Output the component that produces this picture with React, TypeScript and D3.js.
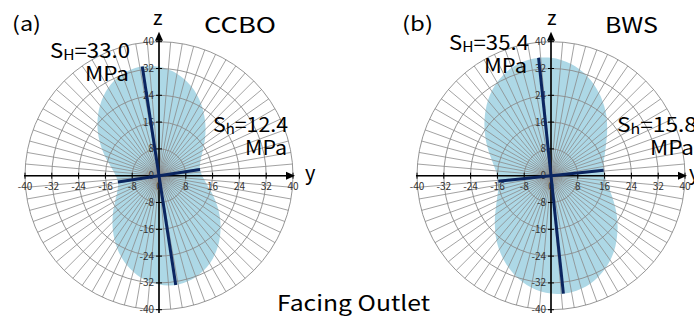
import React from 'react';
import * as d3 from 'd3';

// ---- data ----
const ANGLES_DEG = [0, 10, 20, 30, 40, 50, 60, 70, 80, 90, 100, 110, 120, 130, 140, 150, 160, 170,
  180, 190, 200, 210, 220, 230, 240, 250, 260, 270, 280, 290, 300, 310, 320, 330, 340, 350];
const CCBO_STRESS = [12.9, 12.4, 13.2, 15.1, 18.0, 21.4, 25.0, 28.3, 30.9, 32.5, 33.0, 32.2, 30.3, 27.4, 24.0, 20.5, 17.2, 14.5,
  12.9, 12.4, 13.2, 15.1, 18.0, 21.4, 25.0, 28.3, 30.9, 32.5, 33.0, 32.2, 30.3, 27.4, 24.0, 20.5, 17.2, 14.5];
const BWS_STRESS = [16.0, 15.9, 17.0, 19.0, 21.9, 25.3, 28.6, 31.6, 33.9, 35.2, 35.3, 34.3, 32.2, 29.3, 25.9, 22.6, 19.6, 17.3,
  16.0, 15.9, 17.0, 19.0, 21.9, 25.3, 28.6, 31.6, 33.9, 35.2, 35.3, 34.3, 32.2, 29.3, 25.9, 22.6, 19.6, 17.3];
const PANEL_LABELS = ['(a)', '(b)'];
const PANEL_NAMES = ['CCBO', 'BWS'];
const SH_VALUES = [33.0, 35.4];
const SH_ANGLES = [98.7, 96.0];
const Sh_VALUES = [12.4, 15.8];
const Sh_ANGLES = [8.7, 6.0];
const TICKS = [-40, -32, -24, -16, -8, 0, 8, 16, 24, 32, 40];
const GRID_RADII = [8, 16, 24, 32, 40];
const SPOKE_STEP = 5;
const FOOTER = 'Facing Outlet';

const W = 694;
const H = 323;
const CENTERS = [159, 551];
const CY = 175.7;
const R = 134;

const lin = d3.scaleLinear().domain([-40, 40]).range([-R, R]);
const rad = d3.scaleLinear().domain([0, 40]).range([0, R]);
const toXY = (deg: number, v: number): [number, number] => {
  const a = (deg * Math.PI) / 180;
  return [rad(v) * Math.cos(a), -rad(v) * Math.sin(a)];
};

const FONT = "'Noto Sans CJK JP', 'Liberation Sans', sans-serif";
const DARK = '#0b2560';

function Panel({ i }: { i: number }) {
  const stress = i === 0 ? CCBO_STRESS : BWS_STRESS;
  const pts = ANGLES_DEG.map((a, k) => toXY(a, stress[k]));
  const shape = d3.line().curve(d3.curveCatmullRomClosed.alpha(0.5))(pts) || '';
  const spokes = d3.range(0, 360, SPOKE_STEP);
  const shA = toXY(SH_ANGLES[i], SH_VALUES[i]);
  const shB = toXY(SH_ANGLES[i] + 180, SH_VALUES[i]);
  const sha = toXY(Sh_ANGLES[i], Sh_VALUES[i]);
  const shb = toXY(Sh_ANGLES[i] + 180, Sh_VALUES[i]);
  const xLeft = lin(-40.3);
  const xTip = lin(40.6);
  const yTop = -lin(43);
  const yBot = -lin(-41);
  return (
    <g transform={`translate(${CENTERS[i]},${CY})`}>
      <path d={shape} fill="#add8e6" />
      {GRID_RADII.map((g) => (
        <circle key={g} r={rad(g)} fill="none" stroke="#8a8a8a" strokeWidth={0.9} />
      ))}
      {spokes.map((s) => {
        const [x, y] = toXY(s, 40);
        return <line key={s} x1={0} y1={0} x2={x} y2={y} stroke="#8a8a8a" strokeWidth={0.8} />;
      })}
      {/* axes */}
      <line x1={xLeft} y1={0} x2={xTip - 6} y2={0} stroke="#000" strokeWidth={1.6} />
      <polygon points={`${xTip},0 ${xTip - 9},-4 ${xTip - 9},4`} fill="#000" />
      <line x1={0} y1={yBot} x2={0} y2={yTop + 6} stroke="#000" strokeWidth={1.6} />
      <polygon points={`0,${yTop} -4,${yTop + 9} 4,${yTop + 9}`} fill="#000" />
      {TICKS.map((t) => (
        <g key={'h' + t}>
          {t !== 0 && <line x1={lin(t)} x2={lin(t)} y1={-3} y2={3} stroke="#000" strokeWidth={1} />}
          <text x={lin(t)} y={14.5} fontSize={10} fontFamily={FONT} fill="#333" textAnchor="middle">{t}</text>
        </g>
      ))}
      {TICKS.map((t) => (
        <g key={'v' + t}>
          {t !== 0 && <line x1={-3} x2={3} y1={-lin(t)} y2={-lin(t)} stroke="#000" strokeWidth={1} />}
          <text x={-5} y={-lin(t) + 3.5} fontSize={10} fontFamily={FONT} fill="#333" textAnchor="end">{t}</text>
        </g>
      ))}
      {/* stress directions */}
      <line x1={shB[0]} y1={shB[1]} x2={shA[0]} y2={shA[1]} stroke={DARK} strokeWidth={3} />
      <line x1={shb[0]} y1={shb[1]} x2={sha[0]} y2={sha[1]} stroke={DARK} strokeWidth={3} />
    </g>
  );
}

const TEXTS = [
  { label: { x: 12, y: 31, w: 29 }, name: { x: 204, y: 32.7, w: 72 }, z: { x: 153, y: 25 }, y: { x: 305, y: 180 },
    SH: { x: 50, y: 58.3, w: 80 }, SHm: { x: 85, y: 80.7, w: 44 }, Sh: { x: 213, y: 131.7, w: 75 }, Shm: { x: 245, y: 155, w: 42 } },
  { label: { x: 402, y: 31, w: 31 }, name: { x: 605, y: 32.7, w: 53 }, z: { x: 547, y: 25 }, y: { x: 689, y: 180 },
    SH: { x: 449, y: 50, w: 80 }, SHm: { x: 484, y: 73.3, w: 43 }, Sh: { x: 617, y: 131.7, w: 80 }, Shm: { x: 650, y: 155, w: 44 } },
];

export default function App() {
  return (
    <svg width={W} height={H} viewBox={`0 0 ${W} ${H}`}
      style={{ position: 'absolute', left: 0, top: 0, display: 'block', background: '#fff' }}>
      <rect width={W} height={H} fill="#fff" />
      {[0, 1].map((i) => <Panel key={i} i={i} />)}
      {[0, 1].map((i) => {
        const t = TEXTS[i];
        return (
          <g key={'t' + i} fontFamily={FONT} fill="#000">
            <text x={t.label.x} y={t.label.y} fontSize={20} textLength={t.label.w} lengthAdjust="spacingAndGlyphs">{PANEL_LABELS[i]}</text>
            <text x={t.name.x} y={t.name.y} fontSize={22} textLength={t.name.w} lengthAdjust="spacingAndGlyphs">{PANEL_NAMES[i]}</text>
            <text x={t.z.x} y={t.z.y} fontSize={20}>z</text>
            <text x={t.y.x} y={t.y.y} fontSize={20}>y</text>
            <text x={t.SH.x} y={t.SH.y} fontSize={20} textLength={t.SH.w} lengthAdjust="spacingAndGlyphs">
              S<tspan fontSize={14} dy={2}>H</tspan><tspan dy={-2}>={SH_VALUES[i].toFixed(1)}</tspan>
            </text>
            <text x={t.SHm.x} y={t.SHm.y} fontSize={20} textLength={t.SHm.w} lengthAdjust="spacingAndGlyphs">MPa</text>
            <text x={t.Sh.x} y={t.Sh.y} fontSize={20} textLength={t.Sh.w} lengthAdjust="spacingAndGlyphs">
              S<tspan fontSize={14} dy={2}>h</tspan><tspan dy={-2}>={Sh_VALUES[i].toFixed(1)}</tspan>
            </text>
            <text x={t.Shm.x} y={t.Shm.y} fontSize={20} textLength={t.Shm.w} lengthAdjust="spacingAndGlyphs">MPa</text>
          </g>
        );
      })}
      <text x={277} y={311} fontSize={21} fontFamily={FONT} textLength={153} lengthAdjust="spacingAndGlyphs">{FOOTER}</text>
    </svg>
  );
}
